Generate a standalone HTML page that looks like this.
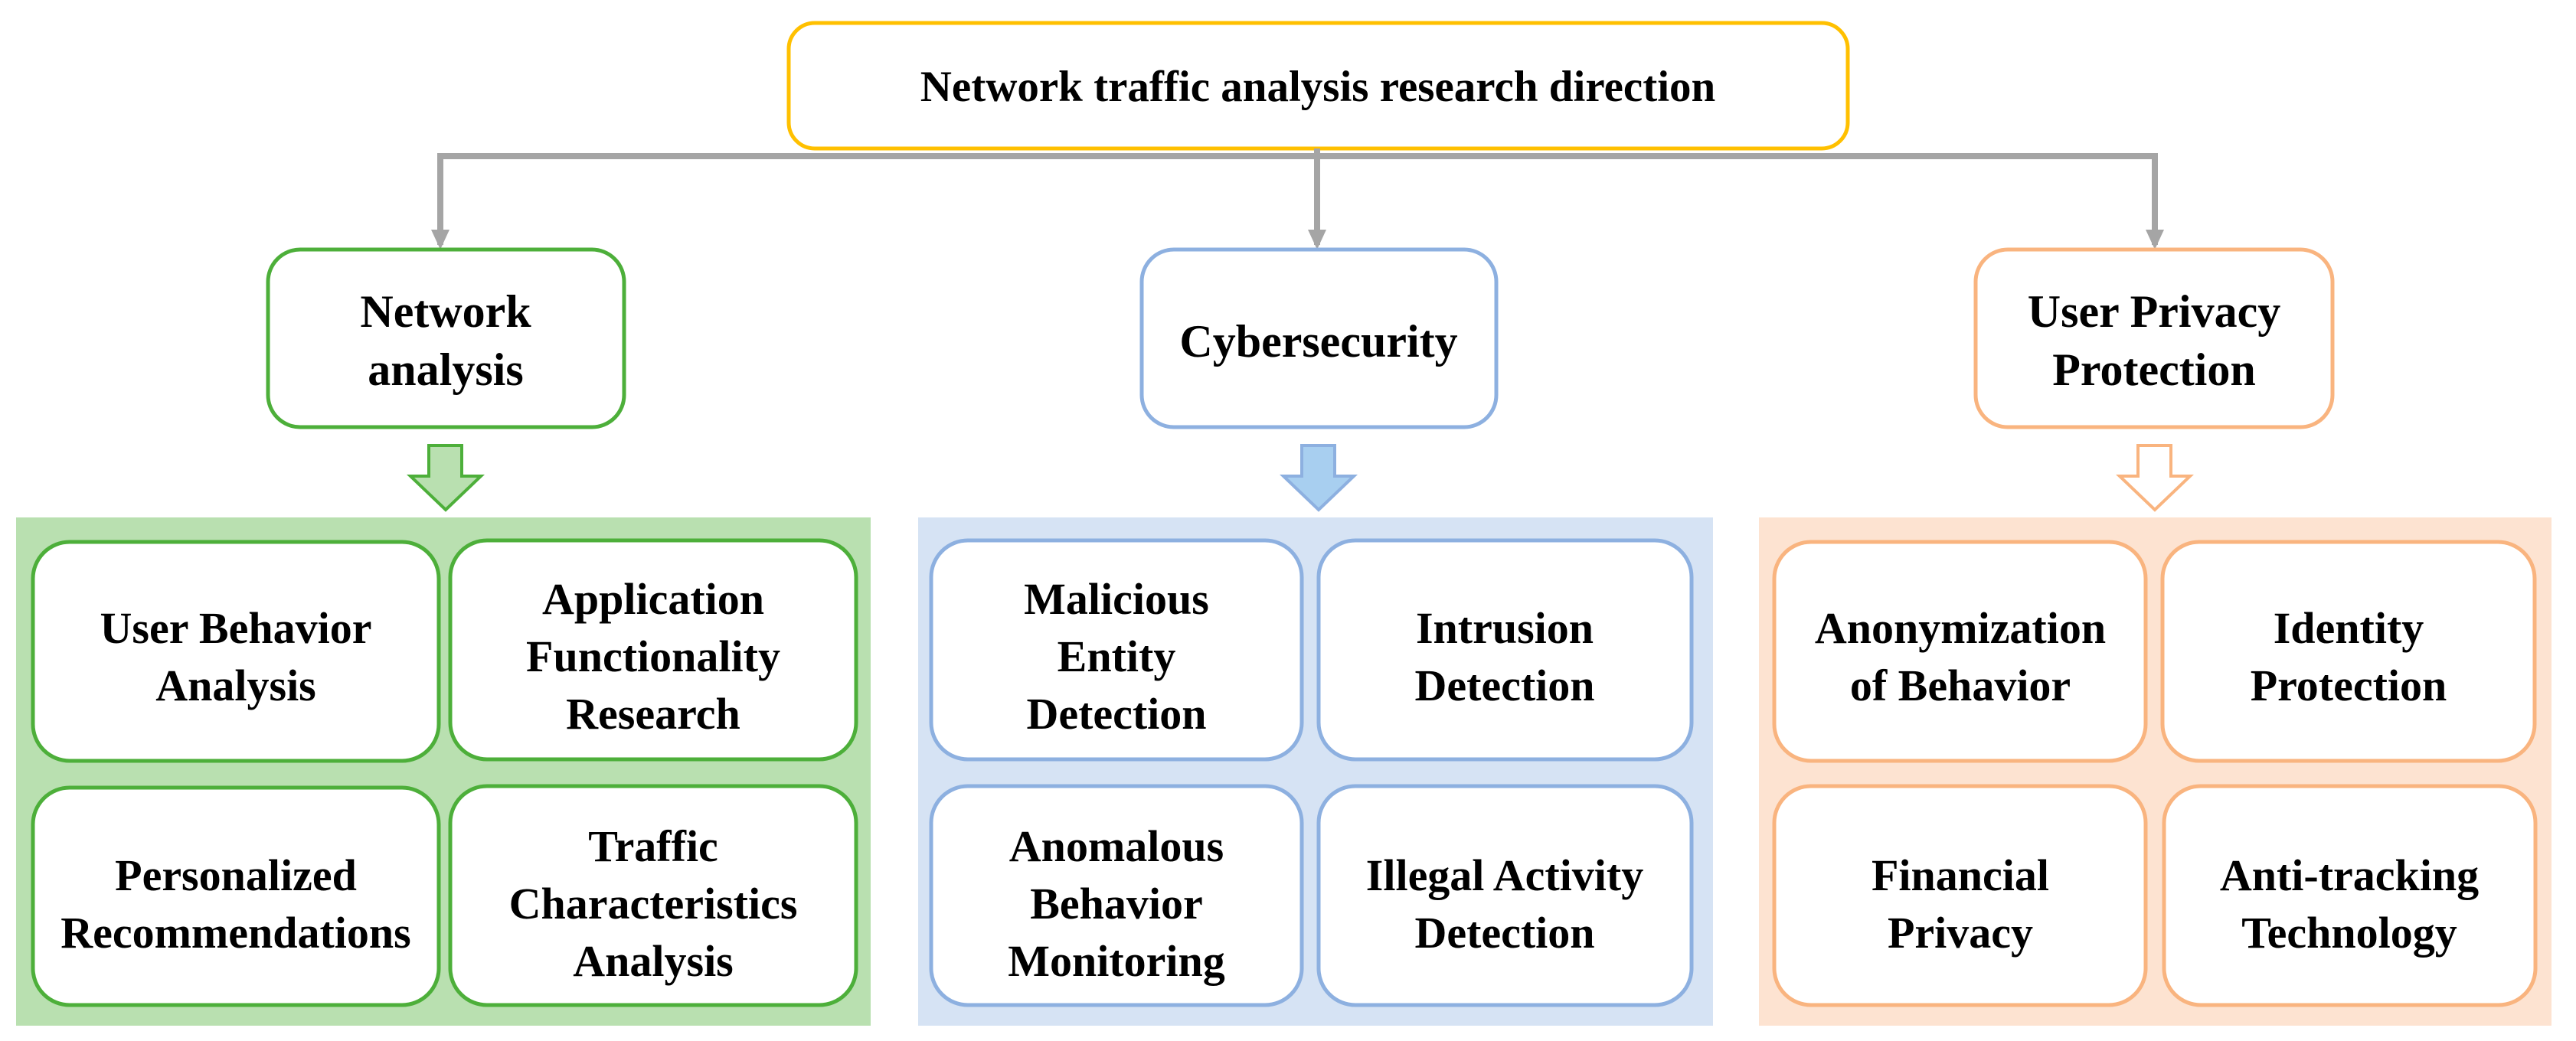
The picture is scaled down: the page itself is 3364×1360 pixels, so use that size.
<!DOCTYPE html>
<html><head><meta charset="utf-8"><style>
html,body{margin:0;padding:0;background:#fff;}
svg{display:block;}
text{font-family:"Liberation Serif",serif;font-weight:bold;fill:#000;text-anchor:middle;}
</style></head><body>
<svg width="3364" height="1360" viewBox="0 0 3364 1360" xmlns="http://www.w3.org/2000/svg">
<rect x="1030" y="30" width="1383" height="164" rx="34" fill="#fff" stroke="#ffc000" stroke-width="5"/>
<text x="1721" y="132" font-size="57">Network traffic analysis research direction</text>
<g stroke="#a5a5a5" stroke-width="8" fill="none">
<path d="M1720 194 V204"/>
<path d="M575 320 V204 H2814 V320"/>
<path d="M1720 204 V320"/>
</g>
<g fill="#a5a5a5">
<polygon points="563,300 587,300 575,326"/>
<polygon points="1708,300 1732,300 1720,326"/>
<polygon points="2802,300 2826,300 2814,326"/>
</g>
<rect x="350" y="326" width="465" height="232" rx="42" fill="#fff" stroke="#4daf3a" stroke-width="5"/>
<text x="582" y="427" font-size="60">Network</text>
<text x="582" y="503" font-size="60">analysis</text>
<rect x="1491" y="326" width="463" height="232" rx="42" fill="#fff" stroke="#8db0e0" stroke-width="5"/>
<text x="1722" y="466" font-size="60">Cybersecurity</text>
<rect x="2580" y="326" width="466" height="232" rx="42" fill="#fff" stroke="#f9b47f" stroke-width="5"/>
<text x="2813" y="427" font-size="60">User Privacy</text>
<text x="2813" y="503" font-size="60">Protection</text>
<polygon points="560,582 603,582 603,622 628,622 582,666 536,622 560,622" fill="#b9e0b0" stroke="#4daf3a" stroke-width="4"/>
<polygon points="1700,582 1743,582 1743,622 1768,622 1722,666 1676,622 1700,622" fill="#a8cff0" stroke="#8db0e0" stroke-width="4"/>
<polygon points="2792,582 2835,582 2835,622 2860,622 2814,666 2768,622 2792,622" fill="#fff" stroke="#f9b47f" stroke-width="4"/>
<rect x="21" y="676" width="1116" height="664" fill="#b9e0b0"/>
<rect x="1199" y="676" width="1038" height="664" fill="#d6e3f4"/>
<rect x="2297" y="676" width="1035" height="664" fill="#fde3d1"/>
<g fill="#fff" stroke="#4daf3a" stroke-width="5">
<rect x="43" y="708" width="530" height="286" rx="48"/>
<rect x="588" y="706" width="530" height="286" rx="48"/>
<rect x="43" y="1029" width="530" height="284" rx="48"/>
<rect x="588" y="1027" width="530" height="286" rx="48"/>
</g>
<g fill="#fff" stroke="#8db0e0" stroke-width="5">
<rect x="1216" y="706" width="484" height="286" rx="48"/>
<rect x="1722" y="706" width="487" height="286" rx="48"/>
<rect x="1216" y="1027" width="484" height="286" rx="48"/>
<rect x="1722" y="1027" width="487" height="286" rx="48"/>
</g>
<g fill="#fff" stroke="#f9b47f" stroke-width="5">
<rect x="2317" y="708" width="485" height="286" rx="48"/>
<rect x="2824" y="708" width="486" height="286" rx="48"/>
<rect x="2317" y="1027" width="485" height="286" rx="48"/>
<rect x="2826" y="1027" width="485" height="286" rx="48"/>
</g>
<g font-size="58">
<text x="308" y="840">User Behavior</text>
<text x="308" y="915">Analysis</text>
<text x="853" y="802">Application</text>
<text x="853" y="877">Functionality</text>
<text x="853" y="952">Research</text>
<text x="308" y="1163">Personalized</text>
<text x="308" y="1238">Recommendations</text>
<text x="853" y="1125">Traffic</text>
<text x="853" y="1200">Characteristics</text>
<text x="853" y="1275">Analysis</text>
<text x="1458" y="802">Malicious</text>
<text x="1458" y="877">Entity</text>
<text x="1458" y="952">Detection</text>
<text x="1965" y="840">Intrusion</text>
<text x="1965" y="915">Detection</text>
<text x="1458" y="1125">Anomalous</text>
<text x="1458" y="1200">Behavior</text>
<text x="1458" y="1275">Monitoring</text>
<text x="1965" y="1163">Illegal Activity</text>
<text x="1965" y="1238">Detection</text>
<text x="2560" y="840">Anonymization</text>
<text x="2560" y="915">of Behavior</text>
<text x="3067" y="840">Identity</text>
<text x="3067" y="915">Protection</text>
<text x="2560" y="1163">Financial</text>
<text x="2560" y="1238">Privacy</text>
<text x="3068" y="1163">Anti-tracking</text>
<text x="3068" y="1238">Technology</text>
</g>
</svg>
</body></html>
